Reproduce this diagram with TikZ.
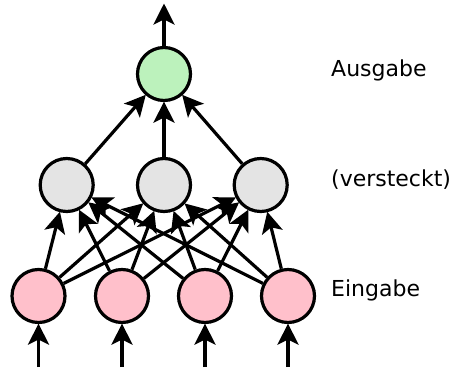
\documentclass[tikz,border=0pt]{standalone}
\usepackage{fontspec}
\setmainfont{DejaVu Sans}
\usetikzlibrary{arrows.meta}
\definecolor{inpink}{RGB}{255,192,203}
\definecolor{hidgrey}{RGB}{228,228,228}
\definecolor{outgreen}{RGB}{188,242,188}
\tikzset{
  neuron/.style={circle, draw=black, line width=3.2pt, minimum size=53pt, inner sep=0pt},
  inneuron/.style={neuron, fill=inpink},
  hidneuron/.style={neuron, fill=hidgrey},
  outneuron/.style={neuron, fill=outgreen},
  conn/.style={line width=3.2pt, -{Stealth[length=21pt,width=21pt,inset=5pt]}, shorten >=-0.5pt},
  layerlabel/.style={anchor=base west, inner sep=0pt, font=\fontsize{22pt}{26pt}\selectfont}
}
\begin{document}
\begin{tikzpicture}[x=1pt,y=-1pt]
\useasboundingbox (0,0) rectangle (450,367);

% input layer
\node[inneuron] (i1) at (38.5,296) {};
\node[inneuron] (i2) at (122,296) {};
\node[inneuron] (i3) at (205,296) {};
\node[inneuron] (i4) at (288,296) {};

% hidden layer
\node[hidneuron] (h1) at (66.7,185) {};
\node[hidneuron] (h2) at (164,185) {};
\node[hidneuron] (h3) at (260.7,185) {};

% output layer
\node[outneuron] (o) at (164,74) {};

% free ends of the external arrows
\coordinate (b1) at (38.5,367);
\coordinate (b2) at (122,367);
\coordinate (b3) at (205,367);
\coordinate (b4) at (288,367);
\coordinate (top) at (164,4);

% inputs into the network
\foreach \k in {1,...,4}
  \draw[conn] (b\k) -- (i\k);

% input -> hidden, fully connected
\foreach \a in {1,...,4}
  \foreach \b in {1,2,3}
    \draw[conn] (i\a) -- (h\b);

% hidden -> output
\foreach \b in {1,2,3}
  \draw[conn] (h\b) -- (o);

% output of the network
\draw[conn] (o) -- (top);

% layer names
\node[layerlabel] (lout) at (331,76.5) {Ausgabe};
\node[layerlabel] (lhid) at (331,186.5) {(versteckt)};
\node[layerlabel] (lin) at (331,296.5) {Eingabe};
\end{tikzpicture}
\end{document}
